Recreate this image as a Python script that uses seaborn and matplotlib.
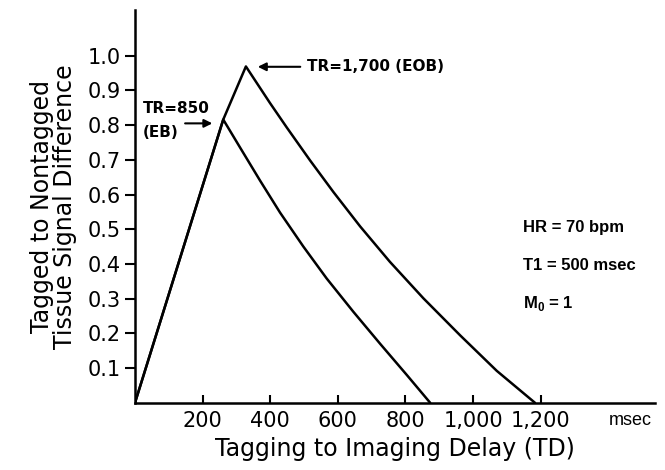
import matplotlib
matplotlib.use('Agg')
import matplotlib.pyplot as plt
import seaborn as sns
import numpy as np
import pandas as pd

sns.set_style('ticks')
plt.rcParams['font.family'] = ['DejaVu Sans']
plt.rcParams['mathtext.fontset'] = 'custom'
plt.rcParams['mathtext.rm'] = 'Liberation Sans:bold'
plt.rcParams['text.color'] = 'black'
plt.rcParams['axes.labelcolor'] = 'black'
plt.rcParams['xtick.color'] = 'black'
plt.rcParams['ytick.color'] = 'black'

#Curve: TR = 850 (EB)
TD_850 = [0, 261, 311, 370, 429, 498, 567, 646, 725, 804, 873]
SIG_850 = [0, 0.816, 0.735, 0.640, 0.548, 0.450, 0.358, 0.262, 0.170, 0.080, 0]

#Curve: TR = 1,700 (EOB)
TD_1700 = [0, 261, 328, 399, 449, 518, 587, 666, 754, 853, 962, 1070, 1183]
SIG_1700 = [0, 0.816, 0.969, 0.864, 0.793, 0.698, 0.607, 0.508, 0.406, 0.301, 0.194, 0.092, 0]

X_TICKS = [200, 400, 600, 800, 1000, 1200]
X_TICK_LABELS = ['200', '400', '600', '800', '1,000', '1,200']
Y_TICKS = [0.1, 0.2, 0.3, 0.4, 0.5, 0.6, 0.7, 0.8, 0.9, 1.0]
Y_TICK_LABELS = ['0.1', '0.2', '0.3', '0.4', '0.5', '0.6', '0.7', '0.8', '0.9', '1.0']

df = pd.concat([
    pd.DataFrame({'td': TD_850, 'signal': SIG_850, 'curve': 'TR=850'}),
    pd.DataFrame({'td': TD_1700, 'signal': SIG_1700, 'curve': 'TR=1700'}),
])

fig = plt.figure(figsize=(6.65, 4.7), dpi=100)
ax = fig.add_axes([0.203, 0.143, 0.782, 0.836])

sns.lineplot(data=df, x='td', y='signal', units='curve', estimator=None, sort=False,
             color='black', linewidth=1.8, ax=ax, legend=False)

ax.set_xlim(0, 1538)
ax.set_ylim(0, 1.132)
sns.despine(ax=ax)
for s in ['left', 'bottom']:
    ax.spines[s].set_linewidth(1.8)
    ax.spines[s].set_color('black')

ax.set_xticks(X_TICKS)
ax.set_xticklabels(X_TICK_LABELS, fontsize=15)
ax.set_yticks(Y_TICKS)
ax.set_yticklabels(Y_TICK_LABELS, fontsize=15)
ax.tick_params(axis='x', direction='in', length=6, width=1.5, pad=6)
ax.tick_params(axis='y', direction='out', length=7, width=1.5, pad=3)

ax.set_xlabel('Tagging to Imaging Delay (TD)', fontsize=17, labelpad=4)
ax.set_ylabel('Tagged to Nontagged\nTissue Signal Difference', fontsize=17, labelpad=8, linespacing=0.95)

ax.text(1400, -0.052, 'msec', fontsize=13, ha='left', va='center',
        family='Liberation Sans', clip_on=False)

#annotations with arrows
ax.annotate('', xy=(355, 0.968), xytext=(497, 0.968),
            arrowprops=dict(arrowstyle='-|>', color='black', lw=1.5, mutation_scale=12))
ax.text(509, 0.968, 'TR=1,700 (EOB)', fontsize=11, fontweight='bold', ha='left', va='center')
ax.annotate('', xy=(237, 0.805), xytext=(140, 0.805),
            arrowprops=dict(arrowstyle='-|>', color='black', lw=1.5, mutation_scale=12))
ax.text(24, 0.848, 'TR=850', fontsize=11, fontweight='bold', ha='left', va='center')
ax.text(24, 0.779, '(EB)', fontsize=11, fontweight='bold', ha='left', va='center')

#parameters
ax.text(1148, 0.504, 'HR = 70 bpm', fontsize=12, fontweight='bold', family='Liberation Sans', va='center')
ax.text(1148, 0.395, 'T1 = 500 msec', fontsize=12, fontweight='bold', family='Liberation Sans', va='center')
ax.text(1148, 0.285, r'M$_0$ = 1', fontsize=12, fontweight='bold', family='Liberation Sans', va='center')

plt.savefig('out.png', dpi=100)
